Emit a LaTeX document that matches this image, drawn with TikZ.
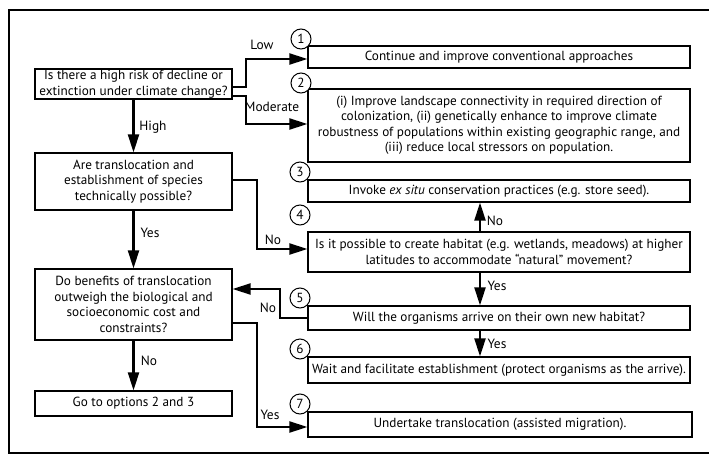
\documentclass[tikz,border=0pt]{standalone}
\usepackage{fontspec}
\setmainfont{PT Sans}
\usetikzlibrary{arrows.meta,calc}
\begin{document}
\begin{tikzpicture}[x=1pt,y=-1pt,
  box/.style={draw, line width=1.2pt, inner sep=0pt, align=center, font=\fontsize{13.2}{15.5}\selectfont},
  num/.style={draw, circle, line width=1pt, fill=white, minimum size=20pt, inner sep=0pt, font=\fontsize{13.2}{14}\selectfont},
  arr/.style={line width=2.2pt, -{Triangle[length=18pt,width=11pt]}},
  lab/.style={font=\fontsize{13.4}{14}\selectfont, inner sep=0pt}]
\useasboundingbox (0,0) rectangle (709,455);
\draw[line width=2.6pt] (709,10) -- (9,10) -- (9,453) -- (709,453);

% left column
\node[box, minimum width=197pt, minimum height=30pt] (q1) at (133.5,84) {Is there a high risk of decline or\\extinction under climate change?};
\node[box, minimum width=197pt, minimum height=57pt] (q2) at (133.5,181.5) {Are translocation and\\establishment of species\\technically possible?};
\node[box, minimum width=197pt, minimum height=71pt] (q3) at (133.5,304.5) {Do benefits of translocation\\outweigh the biological and\\socioeconomic cost and\\constraints?};
\node[box, minimum width=197pt, minimum height=25pt] (go) at (133.5,403.5) {Go to options 2 and 3};

% right column
\node[box, minimum width=382pt, minimum height=22pt] (b1) at (499,57) {Continue and improve conventional approaches};
\node[box, minimum width=382pt, minimum height=73pt] (b2) at (499,125.5) {(i) Improve landscape connectivity in required direction of\\colonization, (ii) genetically enhance to improve climate\\robustness of populations within existing geographic range, and\\(iii) reduce local stressors on population.};
\node[box, minimum width=382pt, minimum height=22pt] (b3) at (499,191) {Invoke \textit{ex situ} conservation practices (e.g. store seed).};
\node[box, minimum width=382pt, minimum height=40pt] (b4) at (499,252) {Is it possible to create habitat (e.g. wetlands, meadows) at higher\\latitudes to accommodate “natural” movement?};
\node[box, minimum width=382pt, minimum height=24pt] (b5) at (499,318) {Will the organisms arrive on their own new habitat?};
\node[box, minimum width=382pt, minimum height=26pt] (b6) at (499,370) {Wait and facilitate establishment (protect organisms as the arrive).};
\node[box, minimum width=384pt, minimum height=25pt] (b7) at (500,424.5) {Undertake translocation (assisted migration).};

% number circles
\node[num] (c1) at (301,39) {1};
\node[num] (c2) at (301,83) {2};
\node[num] (c3) at (300,172) {3};
\node[num] (c4) at (300,215) {4};
\node[num] (c5) at (300,298) {5};
\node[num] (c6) at (300,349) {6};
\node[num] (c7) at (300,404) {7};

% connectors
\draw[arr] (q1.east |- 0,87) -- (246,87) -- (246,59) -- (b1.west |- 0,59);
\draw[arr] (q1.east |- 0,96) -- (246,96) -- (246,124) -- (b2.west |- 0,124);
\draw[arr] (q1.south) -- (q2.north);
\draw[arr] (q2.east |- 0,180) -- (257,180) -- (257,249) -- (b4.west |- 0,249);
\draw[arr] (q2.south) -- (q3.north);
\draw[arr] (b4.north -| 480,0) -- (b3.south -| 480,0);
\draw[arr] (b4.south -| 480,0) -- (b5.north -| 480,0);
\draw[arr] (b5.south -| 480,0) -- (b6.north -| 480,0);
\draw[arr] (b5.west |- 0,318) -- (280,318) -- (280,289) -- (q3.east |- 0,289);
\draw[arr] (q3.east |- 0,323) -- (257,323) -- (257,427) -- (b7.west |- 0,427);
\draw[arr] (q3.south) -- (go.north);

% labels
\node[lab] (lLow) at (262,45) {Low};
\node[lab] (lMod) at (272,107) {Moderate};
\node[lab] (lHigh) at (153,127) {High};
\node[lab] (lYes1) at (150,233) {Yes};
\node[lab] (lNo1) at (273,240) {No};
\node[lab] (lNo2) at (495,221) {No};
\node[lab] (lYes2) at (497,286) {Yes};
\node[lab] (lYes3) at (497,344) {Yes};
\node[lab] (lNo3) at (268,308) {No};
\node[lab] (lYes4) at (270,415) {Yes};
\node[lab] (lNo4) at (149,361) {No};
\end{tikzpicture}
\end{document}
